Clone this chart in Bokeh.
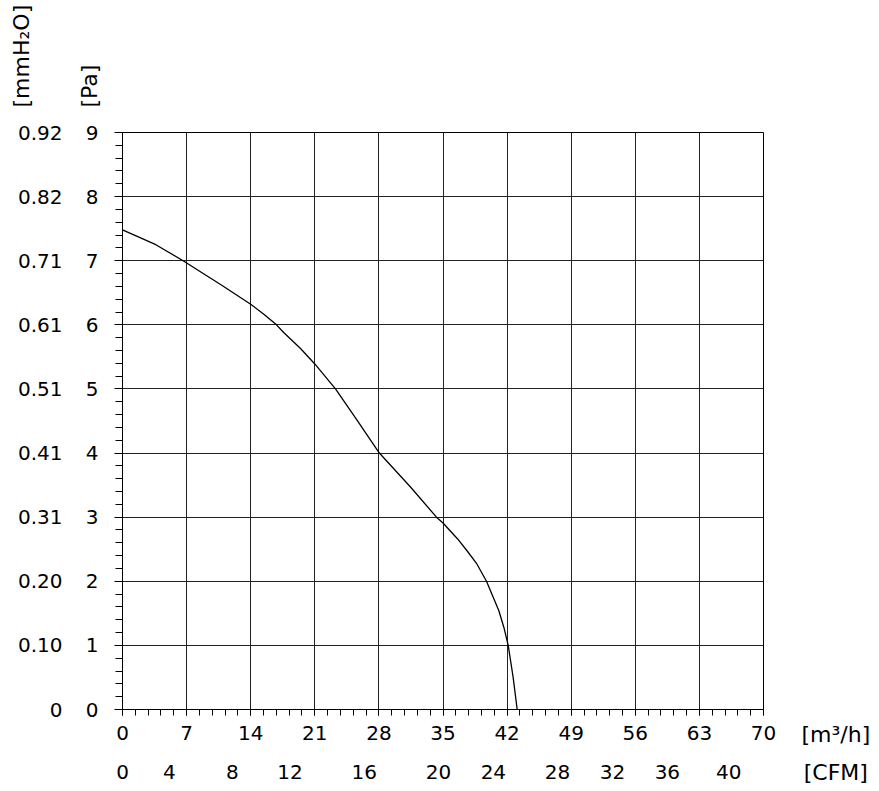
import math
from bokeh.plotting import figure
from bokeh.models import LinearAxis, SingleIntervalTicker, FixedTicker, Range1d, Label
from bokeh.embed import file_html
from bokeh.resources import INLINE

# Curve: airflow [m3/h] vs static pressure [Pa]
flow = [0.0, 3.64, 6.62, 10.92, 14.0, 15.4, 16.82, 17.6, 19.44, 21.0, 23.26, 25.63,
        28.05, 31.45, 34.29, 35.0, 36.6, 37.6, 38.7, 39.75, 41.1, 41.65, 42.12,
        42.66, 43.1]
pressure = [7.48, 7.25, 7.00, 6.61, 6.32, 6.17, 6.00, 5.88, 5.63, 5.39, 5.00, 4.51,
            4.00, 3.47, 3.00, 2.91, 2.66, 2.48, 2.27, 2.00, 1.54, 1.28, 1.00,
            0.50, 0.00]

# Axis ticks / labels
flow_ticks = [0, 7, 14, 21, 28, 35, 42, 49, 56, 63, 70]
pa_ticks = [0, 1, 2, 3, 4, 5, 6, 7, 8, 9]
mmh2o_labels = ["0", "0.10", "0.20", "0.31", "0.41", "0.51", "0.61", "0.71", "0.82", "0.92"]
cfm_pos = [0, 5.13, 12.0, 18.3, 26.4, 34.5, 40.5, 47.5, 53.5, 59.5, 66.2]
cfm_labels = ["0", "4", "8", "12", "16", "20", "24", "28", "32", "36", "40"]
x_units_text = "[m³/h]\n[CFM]"
y_units_text = "[mmH₂O]\n[Pa]"

FONT = "DejaVu Sans"
FS = "20px"
CAP_FS = "22px"

p = figure(width=878, height=791, x_range=Range1d(0, 70), y_range=Range1d(0, 9),
           output_backend="svg", toolbar_location=None,
           min_border_left=122, min_border_right=115, min_border_top=132, min_border_bottom=82)
p.background_fill_color = "white"
p.border_fill_color = "white"
p.outline_line_color = "black"
p.outline_line_width = 1
p.title.visible = False


def style(ax):
    ax.major_label_text_font = FONT
    ax.major_label_text_font_size = FS
    ax.major_label_text_color = "black"
    ax.major_tick_in = 0
    ax.minor_tick_in = 0


# primary x axis (m3/h)
xa = p.xaxis[0]
xa.ticker = SingleIntervalTicker(interval=7, num_minor_ticks=5)
style(xa)
xa.axis_line_color = "black"
xa.major_tick_line_color = "black"
xa.minor_tick_line_color = "black"
xa.minor_tick_out = 6
xa.major_tick_out = 6
xa.major_label_standoff = 10

# primary y axis (Pa)
ya = p.yaxis[0]
ya.ticker = SingleIntervalTicker(interval=1, num_minor_ticks=5)
style(ya)
ya.axis_line_color = "black"
ya.major_tick_line_color = "black"
ya.minor_tick_line_color = "black"
ya.major_tick_out = 8
ya.minor_tick_out = 7
ya.major_label_standoff = 16

p.xgrid.ticker = FixedTicker(ticks=flow_ticks)
p.ygrid.ticker = FixedTicker(ticks=pa_ticks)
p.xgrid.grid_line_color = "#222222"
p.ygrid.grid_line_color = "#222222"
p.xgrid.grid_line_width = 1
p.ygrid.grid_line_width = 1


def bare(ax):
    style(ax)
    ax.axis_line_color = None
    ax.major_tick_line_color = None
    ax.minor_tick_line_color = None
    ax.major_tick_out = 0
    ax.minor_tick_out = 0


# CFM axis
cfm_axis = LinearAxis(ticker=FixedTicker(ticks=cfm_pos),
                      major_label_overrides={k: v for k, v in zip(cfm_pos, cfm_labels)})
bare(cfm_axis)
cfm_axis.major_label_standoff = 22
p.add_layout(cfm_axis, "below")

# mmH2O axis
mm_axis = LinearAxis(ticker=FixedTicker(ticks=pa_ticks),
                     major_label_overrides={k: v for k, v in zip(pa_ticks, mmh2o_labels)})
bare(mm_axis)
mm_axis.major_label_standoff = 20
p.add_layout(mm_axis, "left")

p.line(flow, pressure, line_color="black", line_width=1.3)

# unit captions, placed in side panels so they are not clipped to the frame
x_cap = Label(x=77.9, y=-0.686, text=x_units_text, text_font=FONT, text_font_size=CAP_FS,
              text_color="black", text_align="center", text_baseline="middle",
              text_line_height=1.55)
p.add_layout(x_cap, "right")

y_cap = Label(x=-7.317, y=9.39, text=y_units_text, angle=math.pi / 2, text_font=FONT,
              text_font_size=CAP_FS, text_color="black", text_align="left",
              text_baseline="middle", text_line_height=2.7)
p.add_layout(y_cap, "above")

open("out.html", "w").write(file_html(p, INLINE))
